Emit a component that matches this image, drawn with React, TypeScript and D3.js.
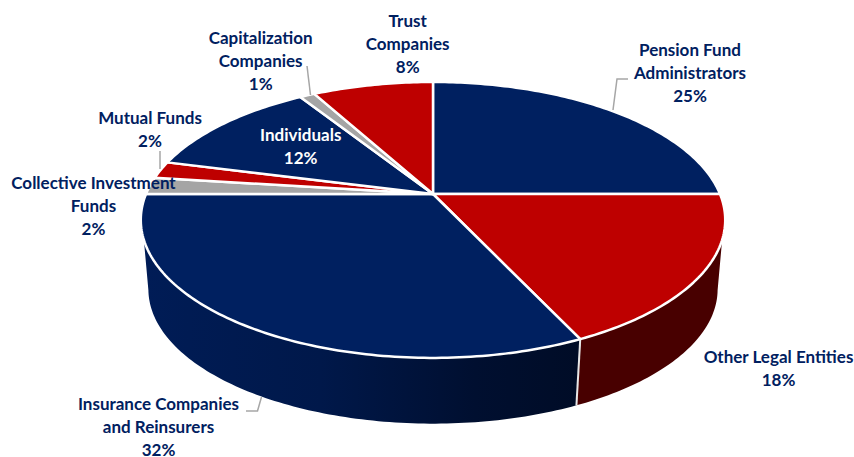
import React from "react";
import * as d3 from "d3";

// Investor base, share of total (%)
const categories = [
  "Pension Fund Administrators",
  "Other Legal Entities",
  "Insurance Companies and Reinsurers",
  "Collective Investment Funds",
  "Mutual Funds",
  "Individuals",
  "Capitalization Companies",
  "Trust Companies",
];
const shares = [25, 18, 32, 2, 2, 12, 1, 8];
const topColors = ["#002060", "#BE0000", "#002060", "#A5A5A5", "#BE0000", "#002060", "#A5A5A5", "#BE0000"];
const wallFills = ["#480000", "#480000", "url(#navyWall)", "#555555", "#480000", "#001a50", "#555555", "#480000"];

// Wrapped label text, one entry per category
const labelLines = [
  ["Pension Fund", "Administrators", "25%"],
  ["Other Legal Entities", "18%"],
  ["Insurance Companies", "and Reinsurers", "32%"],
  ["Collective Investment", "Funds", "2%"],
  ["Mutual Funds", "2%"],
  ["Individuals", "12%"],
  ["Capitalization", "Companies", "1%"],
  ["Trust", "Companies", "8%"],
];
const labelAnchors: [number, number][] = [
  [690, 51.5],
  [778.5, 359],
  [158.5, 405.5],
  [93.5, 185],
  [150, 119.5],
  [300.7, 137],
  [260.7, 40],
  [407.7, 23],
];
const leaders: [number, number][][] = [
  [[613, 110], [617, 79], [628, 79]],
  [[261.5, 397], [257.5, 411], [246, 411]],
  [[160, 151], [160, 169]],
  [[307, 66], [310.5, 95]],
];

// Perspective model of the tilted disc
const width = 854;
const height = 457;
const apexX = 433;
const apexY = 194;
const spanX = 287;
const spanY = 133.1;
const tilt = 0.188;
const wallScale = 0.974;
const wallDrop = 70;

type Pt = [number, number];

const topPoint = (a: number): Pt => {
  const w = 1 + tilt * Math.cos(a);
  return [apexX + (spanX * Math.sin(a)) / w, apexY - (spanY * Math.cos(a)) / w];
};
const basePoint = (a: number): Pt => {
  const [x, y] = topPoint(a);
  return [apexX + wallScale * (x - apexX), apexY + wallScale * (y - apexY) + wallDrop];
};
const sweep = (from: number, to: number, f: (a: number) => Pt): Pt[] => {
  const n = Math.max(2, Math.ceil(Math.abs(to - from) * 60));
  return d3.range(n + 1).map((i) => f(from + ((to - from) * i) / n));
};

const toPath = d3.line<Pt>().x((d) => d[0]).y((d) => d[1]);
const deg = Math.PI / 180;

// Angular range of the rim that faces the viewer
const rimFrom = 108.9 * deg;
const rimTo = 251.1 * deg;
const baseFrom = 101.2 * deg;
const baseTo = 258.8 * deg;

export default function App() {
  const arcs = d3.pie<number>().sort(null).value((d) => d)(shares);

  const walls = arcs.flatMap((s, i) => {
    const t0 = Math.max(s.startAngle, rimFrom);
    const t1 = Math.min(s.endAngle, rimTo);
    const b0 = Math.max(s.startAngle, baseFrom);
    const b1 = Math.min(s.endAngle, baseTo);
    if (t1 <= t0) return [];
    const pts = [...sweep(t0, t1, topPoint), ...sweep(b1, b0, basePoint)];
    return [{ d: toPath(pts) + "Z", fill: wallFills[i], key: categories[i] }];
  });

  const seams = arcs
    .filter((s) => s.startAngle > rimFrom && s.startAngle < rimTo)
    .map((s) => [topPoint(s.startAngle), basePoint(s.startAngle)] as Pt[]);

  return (
    <svg
      width={width}
      height={height}
      viewBox={`0 0 ${width} ${height}`}
      style={{ position: "absolute", left: 0, top: 0, background: "#fff" }}
      fontFamily="Lato, 'Open Sans', sans-serif"
      fontWeight={700}
      fontSize={17}
    >
      <defs>
        <linearGradient id="navyWall" gradientUnits="userSpaceOnUse" x1={145} x2={585} y1={0} y2={0}>
          <stop offset="0" stopColor="#001c56" />
          <stop offset="0.4" stopColor="#00184a" />
          <stop offset="0.75" stopColor="#000f30" />
          <stop offset="1" stopColor="#000c26" />
        </linearGradient>
      </defs>

      {walls.map((w) => (
        <path key={w.key} d={w.d} fill={w.fill} />
      ))}
      {seams.map((p, i) => (
        <path key={i} d={toPath(p) ?? ""} stroke="#e8e8e8" strokeWidth={2} fill="none" />
      ))}

      {arcs.map((s, i) => {
        const pts: Pt[] = [[apexX, apexY], ...sweep(s.startAngle, s.endAngle, topPoint)];
        return (
          <path
            key={categories[i]}
            d={toPath(pts) + "Z"}
            fill={topColors[i]}
            stroke="#fff"
            strokeWidth={2.5}
            strokeLinejoin="round"
          />
        );
      })}

      {leaders.map((l, i) => (
        <path key={i} d={toPath(l) ?? ""} fill="none" stroke="#A6A6A6" strokeWidth={1.5} />
      ))}

      {labelLines.map((lines, i) => (
        <text
          key={categories[i]}
          x={labelAnchors[i][0]}
          y={labelAnchors[i][1]}
          textAnchor="middle"
          dominantBaseline="middle"
          fill={categories[i] === "Individuals" ? "#fff" : "#002060"}
        >
          {lines.map((line, j) => (
            <tspan key={j} x={labelAnchors[i][0]} dy={j === 0 ? 0 : 23}>
              {line}
            </tspan>
          ))}
        </text>
      ))}
    </svg>
  );
}
